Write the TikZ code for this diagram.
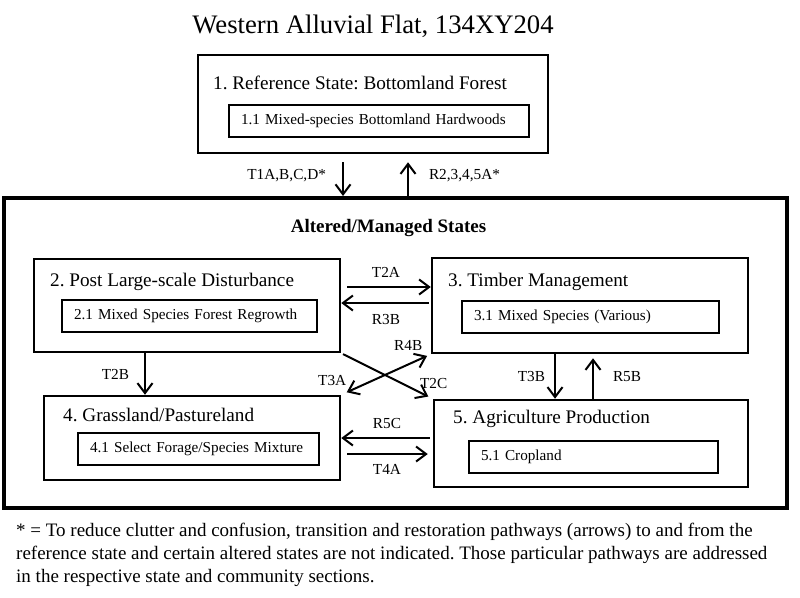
\documentclass[tikz,border=0pt]{standalone}
\usepackage{fontspec}
\setmainfont{Liberation Serif}
\usetikzlibrary{arrows.meta}
\usetikzlibrary{calc}
\frenchspacing
\tikzstyle{statebox}=[rectangle,draw,line width=2.5pt,inner sep=0pt]
\tikzstyle{community}=[rectangle,draw,line width=2pt,anchor=west,minimum height=32pt,inner xsep=12pt,inner ysep=0pt,align=left,font=\fontsize{15.2}{18}\selectfont]
\tikzstyle{statetitle}=[anchor=base west,inner sep=0pt,font=\fontsize{19.2}{23}\selectfont]
\tikzstyle{pathway}=[line width=2pt,>={Straight Barb[length=10pt,width=15pt]},->]
\tikzstyle{pathlabel}=[inner sep=0pt,font=\fontsize{15.3}{18}\selectfont]

\begin{document}
\begin{tikzpicture}[x=1pt,y=-1pt]
    \useasboundingbox (0,0) rectangle (800,597);
    \node[anchor=base,inner sep=0pt,font=\fontsize{26.7}{32}\selectfont] (title) at (373,33) {Western Alluvial Flat, 134XY204};

    \node[rectangle,draw,line width=4pt,minimum width=783pt,minimum height=310pt] (altered) at (395.5,353) {};
    \node[anchor=base,inner sep=0pt,font=\fontsize{19}{23}\selectfont\bfseries] (amtitle) at (388.5,232) {Altered/Managed States};

    \foreach \pos/\boxw/\boxh/\name in {{(373,104)/350/98/s1}, {(187,305.5)/306/93/s2}, {(590,305.5)/316/95/s3},
                                       {(192,438)/296/84/s4}, {(591,443.5)/314/87/s5}}
        \node[statebox, minimum width=\boxw pt, minimum height=\boxh pt] (\name) at \pos {};
    \foreach \pos/\name/\txt in {{(213,89)/t1/{1. Reference State: Bottomland Forest}}, {(50,286)/t2/{2. Post Large-scale Disturbance}},
                                 {(448,286)/t3/{3. Timber Management}}, {(63,421)/t4/{4. Grassland/Pastureland}},
                                 {(453,423)/t5/{5. Agriculture Production}}}
        \node[statetitle] (\name) at \pos {\txt};
    \foreach \pos/\tw/\name/\txt in {{(228,121)/276/c11/{1.1 Mixed-species Bottomland Hardwoods}}, {(61,316)/231/c21/{2.1 Mixed Species Forest Regrowth}},
                                     {(461,316.5)/233/c31/{3.1 Mixed Species (Various)}}, {(77,448.5)/217/c41/{4.1 Select Forage/Species Mixture}},
                                     {(468,456.5)/225/c51/{5.1 Cropland}}}
        \node[community, text width=\tw pt] (\name) at \pos {\txt};

    % reference state <-> altered states
    \draw[pathway, shorten <=8pt] ([xshift=-30pt]s1.south) -- ([xshift=-30pt]s1.south |- altered.north)
        node[pathlabel, midway, left=16pt] {T1A,B,C,D*};
    \draw[pathway, shorten >=8pt] ([xshift=35pt]s1.south |- altered.north) -- ([xshift=35pt]s1.south)
        node[pathlabel, midway, right=20pt] {R2,3,4,5A*};

    \draw[pathway, shorten <=6pt] ([yshift=18.5pt]s2.east) -- ([yshift=18.5pt]s2.east -| s3.west)
        node[pathlabel, midway, above=9pt] {T2A};
    \draw[pathway, shorten <=2pt] ([yshift=2.5pt]s3.west) -- ([yshift=2.5pt]s3.west -| s2.east)
        node[pathlabel, midway, below=10pt] {R3B};
    \draw[pathway] ([xshift=-42pt]s2.south) -- ([xshift=-42pt]s2.south |- s4.north)
        node[pathlabel, midway, left=15pt] {T2B};
    \draw[pathway, shorten <=2pt, shorten >=5pt] (s2.south east) -- (s5.north west)
        node[pathlabel, pos=0.85, anchor=south west, yshift=2pt] {T2C};
    \draw[pathway, <->, shorten <=4pt, shorten >=6pt] (s3.south west) -- (s4.north east)
        node[pathlabel, pos=0.05, anchor=south east, xshift=-3pt, yshift=5pt] {R4B}
        node[pathlabel, pos=0.9, anchor=south east, xshift=-3pt, yshift=4pt] {T3A};
    \draw[pathway] ([xshift=-35pt]s3.south) -- ([xshift=-35pt]s3.south |- s5.north)
        node[pathlabel, midway, left=9pt] {T3B};
    \draw[pathway, shorten >=4pt] ([xshift=2pt]s5.north) -- ([xshift=2pt]s5.north |- s3.south)
        node[pathlabel, midway, right=19pt] {R5B};
    \draw[pathway, shorten <=3pt] ([yshift=5.5pt]s5.west) -- ([yshift=5.5pt]s5.west -| s4.east)
        node[pathlabel, midway, above=8pt] {R5C};
    \draw[pathway, shorten <=6pt, shorten >=5pt] ([yshift=-16pt]s4.east) -- ([yshift=-16pt]s4.east -| s5.west)
        node[pathlabel, midway, below=9pt] {T4A};

    \node[anchor=north west,inner sep=0pt,align=left,font=\fontsize{19}{23}\selectfont] (note) at (16,523)
        {* = To reduce clutter and confusion, transition and restoration pathways (arrows) to and from the\\
         reference state and certain altered states are not indicated. Those particular pathways are addressed\\
         in the respective state and community sections.};
\end{tikzpicture}
\end{document}
